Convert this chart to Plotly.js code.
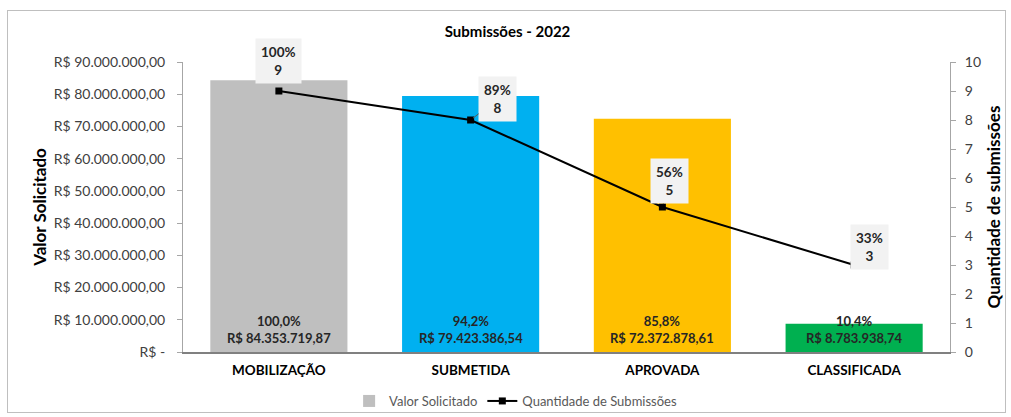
<!DOCTYPE html>
<html>
<head>
<meta charset="utf-8">
<script src="https://cdn.plot.ly/plotly-3.0.1.min.js"></script>
<style>
  html, body { margin: 0; padding: 0; background: #fff; }
  #wrap { position: relative; width: 1011px; height: 417px; }
  #chart { width: 1011px; height: 417px; }
  #frame { position: absolute; left: 7px; top: 10px; width: 997px; height: 401px; border: 1px solid #bfbfbf; pointer-events: none; }
</style>
</head>
<body>
<div id="wrap"><div id="chart"></div><div id="frame"></div></div>
<script>
const categories = ['MOBILIZAÇÃO', 'SUBMETIDA', 'APROVADA', 'CLASSIFICADA'];
const valorSolicitado = [84353719.87, 79423386.54, 72372878.61, 8783938.74];
const valorPct = ['100,0%', '94,2%', '85,8%', '10,4%'];
const barColors = ['#bfbfbf', '#00b0f0', '#ffc000', '#00b050'];
const quantidade = [9, 8, 5, 3];
const quantPct = ['100%', '89%', '56%', '33%'];
const leftTickVals = [0, 10000000, 20000000, 30000000, 40000000, 50000000, 60000000, 70000000, 80000000, 90000000];
const leftTickText = ['R$ -', 'R$ 10.000.000,00', 'R$ 20.000.000,00', 'R$ 30.000.000,00', 'R$ 40.000.000,00',
  'R$ 50.000.000,00', 'R$ 60.000.000,00', 'R$ 70.000.000,00', 'R$ 80.000.000,00', 'R$ 90.000.000,00'];

function fmtBRL(v) {
  const parts = v.toFixed(2).split('.');
  const intPart = parts[0].replace(/\B(?=(\d{3})+(?!\d))/g, '.');
  return 'R$ ' + intPart + ',' + parts[1];
}

const FONT = 'Lato, "Open Sans", sans-serif';

const barTrace = {
  type: 'bar', x: categories, y: valorSolicitado, name: 'Valor Solicitado',
  marker: { color: barColors }, width: 0.715, hoverinfo: 'skip'
};
const lineTrace = {
  type: 'scatter', mode: 'lines+markers', x: categories, y: quantidade, yaxis: 'y2',
  name: 'Quantidade de Submissões',
  line: { color: '#000000', width: 2 }, marker: { symbol: 'square', size: 7, color: '#000000' },
  hoverinfo: 'skip'
};

const annotations = [];
categories.forEach((c, i) => {
  annotations.push({
    x: c, y: 0, xref: 'x', yref: 'y', yanchor: 'bottom', yshift: 4, showarrow: false,
    text: '<b>' + valorPct[i] + '<br>' + fmtBRL(valorSolicitado[i]) + '</b>',
    font: { family: FONT, size: 13, color: '#262626' }
  });
});
const lblOffsets = [[0, -30], [27, -21], [7, -26], [15, -18]];
const lblArrowColor = ['rgba(0,0,0,0)', '#595959', '#595959', '#595959'];
categories.forEach((c, i) => {
  annotations.push({
    x: c, y: quantidade[i], xref: 'x', yref: 'y2',
    showarrow: true, arrowhead: 0, arrowwidth: 1, arrowcolor: lblArrowColor[i],
    ax: lblOffsets[i][0], ay: lblOffsets[i][1], standoff: 3,
    text: '<b>' + quantPct[i] + '<br>' + quantidade[i] + '</b>',
    bgcolor: '#f2f2f2', borderpad: 5,
    font: { family: FONT, size: 13.5, color: '#262626' }
  });
});

const layout = {
  width: 1011, height: 417,
  margin: { l: 183, r: 61, t: 62, b: 65 },
  paper_bgcolor: '#ffffff', plot_bgcolor: '#ffffff',
  font: { family: FONT, color: '#404040' },
  title: { text: '<b>Submissões - 2022</b>', x: 0.502, xref: 'container', xanchor: 'center',
           y: 1 - 32 / 417, yref: 'container', yanchor: 'middle',
           font: { family: FONT, size: 15, color: '#000000' } },
  xaxis: {
    type: 'category', showgrid: false, showline: true, linecolor: '#808080', linewidth: 1.5,
    ticks: '', ticklabelstandoff: 5,
    tickfont: { family: FONT, size: 13.5, color: '#000000' },
    tickprefix: '<b>', ticksuffix: '</b>'
  },
  yaxis: {
    range: [0, 90000000], tickvals: leftTickVals, ticktext: leftTickText,
    showgrid: false, zeroline: false, showline: true, linecolor: '#a6a6a6', linewidth: 1,
    ticks: 'outside', ticklen: 5, tickcolor: '#a6a6a6', ticklabelstandoff: 9,
    tickfont: { family: FONT, size: 14, color: '#404040' },
    title: { text: '<b>Valor Solicitado</b>', standoff: 2, font: { family: FONT, size: 17, color: '#000000' } }
  },
  yaxis2: {
    overlaying: 'y', side: 'right', range: [0, 10], dtick: 1, showgrid: false, zeroline: false,
    showline: true, linecolor: '#a6a6a6', linewidth: 1, ticks: 'outside', ticklen: 5, tickcolor: '#a6a6a6',
    ticklabelstandoff: 6,
    tickfont: { family: FONT, size: 14, color: '#404040' },
    title: { text: '<b>Quantidade de submissões</b>', standoff: 8, font: { family: FONT, size: 17, color: '#000000' } }
  },
  showlegend: true,
  legend: { orientation: 'h', x: 0.51, xref: 'container', xanchor: 'center',
            y: (417 - 401) / 417, yref: 'container', yanchor: 'middle',
            font: { family: FONT, size: 13, color: '#595959' }, itemwidth: 30 },
  annotations: annotations
};

Plotly.newPlot('chart', [barTrace, lineTrace], layout, { displayModeBar: false, staticPlot: true });
</script>
</body>
</html>
